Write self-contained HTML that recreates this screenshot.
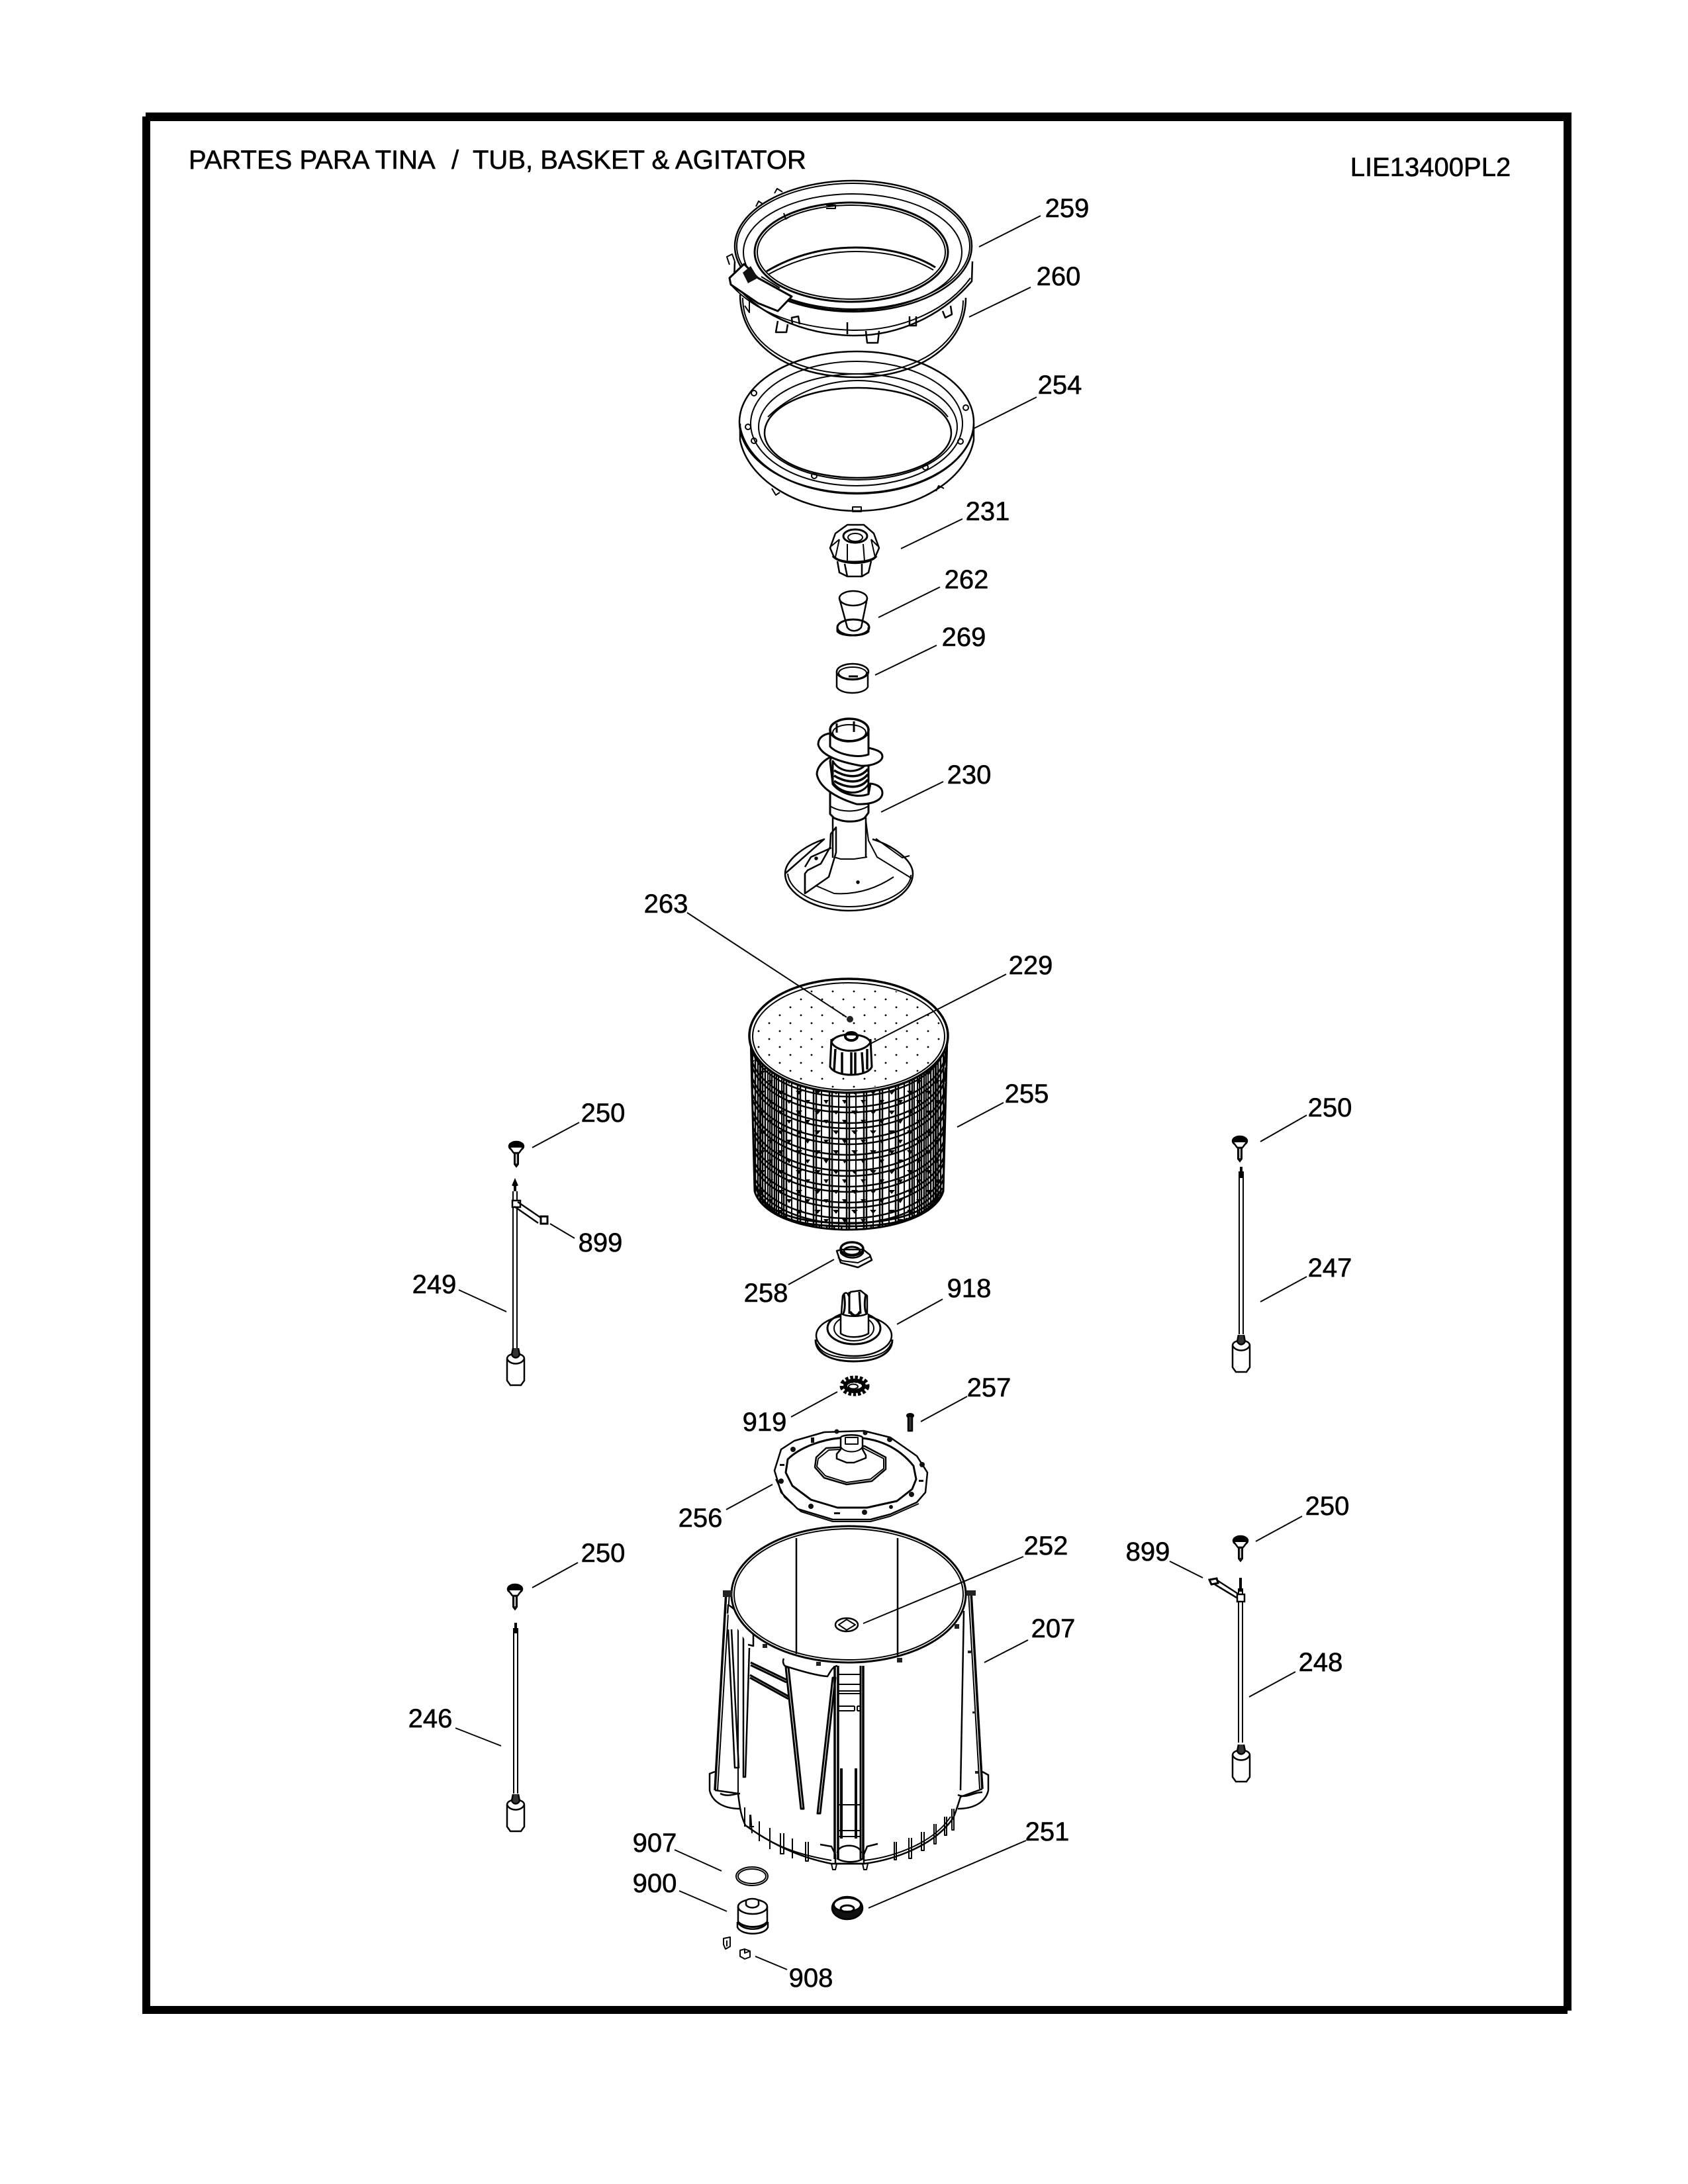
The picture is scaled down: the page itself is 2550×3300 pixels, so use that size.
<!DOCTYPE html>
<html><head><meta charset="utf-8"><title>Tub, Basket &amp; Agitator</title>
<style>html,body{margin:0;padding:0;background:#fff}svg{display:block}text{font-family:"Liberation Sans",sans-serif;font-size:40px;fill:#000;stroke:#000;stroke-width:.6px}</style>
</head><body>
<svg xmlns="http://www.w3.org/2000/svg" width="2550" height="3300" viewBox="0 0 2550 3300">
<defs>
<g id="screw"><ellipse cx="0" cy="-8" rx="11" ry="7" fill="#000"/><path d="M-10,-6L-4,2H4L10,-6" fill="#fff" stroke="#000" stroke-width="2.5"/><path d="M-3,2V19L0,23L3,19V2" fill="#222" stroke="#000" stroke-width="2"/><path d="M0,4V18" stroke="#fff" stroke-width="1.5"/></g>
<g id="weight" fill="#fff" stroke="#000" stroke-width="2.5"><path d="M-13,10V43L-8,50H8L13,43V10C13,0 -13,0 -13,10Z"/><path d="M-13,10C-9,20 9,20 13,10"/><path d="M-4,-6L-6,4C-3,10 3,10 6,4L4,-6" fill="#333"/></g>
<path id="ring" d="M1134,1565A147,84 0 0 0 1428,1565" fill="none" stroke="#000" stroke-width="2.5"/>
<pattern id="tri" width="28" height="30" patternUnits="userSpaceOnUse" x="1140" y="1640"><path d="M6,8H16L11,14Z" fill="#000"/><path d="M20,22H28L24,28Z" fill="#000"/></pattern>
<pattern id="dots" width="32" height="24" patternUnits="userSpaceOnUse" x="1140" y="1480"><circle cx="6" cy="6" r="1.4" fill="#000"/><circle cx="22" cy="18" r="1.4" fill="#000"/></pattern>
<clipPath id="bskt"><path d="M1134,1565L1140,1800C1150,1835 1210,1858 1281,1858C1352,1858 1415,1835 1425,1800L1431,1565A150,86 0 0 1 1134,1565Z"/></clipPath>
</defs>
<rect width="2550" height="3300" fill="#fff"/>
<!-- frame -->
<g fill="#000"><rect x="220" y="170" width="2154" height="13"/><rect x="215" y="176" width="12" height="2867"/><rect x="2362" y="170" width="12" height="2868"/><rect x="215" y="3031" width="2153" height="12"/></g>
<!-- header -->
<text x="285" y="255">PARTES PARA TINA</text><text x="682" y="255">/</text><text x="714" y="255">TUB, BASKET &amp; AGITATOR</text>
<text x="2161" y="266" text-anchor="middle">LIE13400PL2</text>

<g fill="none" stroke="#000" stroke-width="2.5" stroke-linejoin="round">
<!-- 260 gasket -->
<path d="M1118,445C1118,520 1190,570 1293,570C1390,570 1459,520 1459,450" stroke-width="2.5"/><path d="M1122,450C1122,518 1195,565 1293,565C1385,565 1455,518 1455,454" stroke-width="2"/>
<!-- 259 ring -->
<ellipse cx="1289" cy="372" rx="179" ry="99" fill="#fff"/><ellipse cx="1289" cy="372" rx="176" ry="95" stroke-width="2"/>
<ellipse cx="1288" cy="381" rx="165" ry="88" stroke-width="2"/>
<ellipse cx="1286" cy="381" rx="146" ry="75" stroke-width="3"/><ellipse cx="1286" cy="381" rx="142" ry="71" stroke-width="2"/>
<path d="M1158,410C1200,385 1245,374 1293,374C1340,374 1385,386 1413,404" stroke-width="3"/><path d="M1160,415C1205,390 1250,380 1293,380C1340,380 1380,390 1410,408" stroke-width="2"/>
<path d="M1110,395L1109,425C1125,455 1190,505 1288,507C1360,508 1425,475 1468,425L1469,395" />
<path d="M1104,430C1140,470 1200,496 1288,499C1360,500 1430,470 1466,420" stroke-width="2"/>
<path d="M1102,420L1124,399L1145,420L1196,448L1175,470L1145,458L1104,430Z" fill="#fff" stroke-width="3"/>
<path d="M1122,412L1134,402L1145,420L1130,428Z" fill="#111" stroke="none"/>
<path d="M1178,435L1150,418" stroke-width="2"/><path d="M1102,400L1098,388L1106,384L1110,395" stroke-width="2"/>
<path d="M1142,312L1146,304L1152,308M1170,292L1174,285L1182,290M1184,322L1187,331L1195,326M1248,310H1262V315H1248" stroke-width="2"/>
<path d="M1175,485L1172,502H1188L1190,490M1308,500L1310,518H1326L1328,500M1424,470L1428,480L1438,475L1436,462M1197,490L1196,480L1206,478L1208,490M1374,478V492H1384V478M1280,487V505" stroke-width="2.5"/>
<path d="M1125,462L1132,472V455" stroke-width="2"/>

<!-- 254 -->
<path d="M1118,640V665C1130,725 1205,772 1294,772C1385,772 1460,725 1471,665V640"/>
<path d="M1118,645C1130,705 1205,746 1294,746C1385,746 1460,705 1471,648"/>
<ellipse cx="1294" cy="638" rx="177" ry="107"/><ellipse cx="1294" cy="640" rx="160" ry="94" stroke-width="2"/>
<ellipse cx="1296" cy="645" rx="150" ry="80" stroke-width="2"/><ellipse cx="1296" cy="654" rx="141" ry="68" stroke-width="2.5"/>
<path d="M1160,630C1190,600 1240,575 1296,575C1350,575 1410,600 1432,630" stroke-width="2"/>
<g stroke-width="2"><circle cx="1139" cy="594" r="4"/><circle cx="1130" cy="645" r="4"/><circle cx="1139" cy="666" r="4"/><circle cx="1459" cy="616" r="4"/><circle cx="1451" cy="667" r="4"/><circle cx="1398" cy="706" r="4"/><circle cx="1230" cy="719" r="4"/><rect x="1288" y="766" width="13" height="7"/><path d="M1166,738L1172,748L1178,744M1414,742L1418,734L1426,738"/></g>

<!-- 231 -->
<path d="M1254,828L1262,806L1280,793H1305L1320,806L1328,828L1322,842C1310,851 1270,851 1260,842Z" fill="#fff"/>
<ellipse cx="1292" cy="810" rx="18" ry="10" stroke-width="3"/><ellipse cx="1292" cy="812" rx="11" ry="6" stroke-width="2"/>
<path d="M1268,815L1262,842M1280,822V848M1304,822L1306,848M1316,815L1322,842M1256,825L1268,815M1326,825L1316,815" stroke-width="2"/>
<path d="M1258,840C1270,854 1314,854 1324,840" stroke-width="3.5"/>
<path d="M1265,848L1268,865L1280,871H1302L1312,865L1316,848M1276,852L1280,871M1302,852V871"/>
<!-- 262 -->
<path d="M1268,904L1280,948C1285,955 1295,955 1301,948L1310,904"/><ellipse cx="1289" cy="904" rx="21" ry="11"/>
<ellipse cx="1289" cy="948" rx="24" ry="12" stroke-width="3"/><path d="M1265,948V954C1270,962 1305,962 1312,954V948" stroke-width="3"/>
<!-- 269 -->
<path d="M1264,1015V1038C1270,1050 1305,1050 1311,1038V1015"/><ellipse cx="1288" cy="1015" rx="24" ry="12"/><ellipse cx="1288" cy="1017" rx="21" ry="9" stroke-width="2"/><path d="M1282,1022H1296" stroke-width="3"/>
<!-- 230 -->
<path d="M1186,1320C1186,1350 1230,1376 1283,1376C1336,1376 1379,1350 1379,1320C1379,1300 1350,1278 1318,1268M1245,1268C1215,1278 1186,1300 1186,1320Z" fill="#fff"/>
<path d="M1190,1320C1192,1346 1232,1370 1283,1370C1334,1370 1376,1346 1376,1322" stroke-width="2"/>
<path d="M1216,1350L1252,1325L1263,1288V1250L1255,1260L1254,1280L1240,1305L1220,1315L1216,1320Z" fill="#fff"/>
<path d="M1216,1310L1225,1295L1256,1281M1216,1350V1320" />
<path d="M1308,1240L1312,1270L1325,1295L1377,1327M1323,1267L1363,1296L1374,1293M1310,1295L1290,1298H1270L1260,1295M1232,1338L1260,1350C1290,1352 1320,1345 1350,1325" stroke-width="2"/>
<path d="M1258,1235V1296M1308,1235V1296"/>
<!-- stem under the flanges -->
<path d="M1254,1150V1230L1260,1236C1275,1243 1295,1243 1306,1236L1312,1228V1150" fill="#fff" stroke-width="3"/>
<path d="M1254,1218C1270,1228 1295,1228 1312,1218" stroke-width="2"/>
<!-- lower flange -->
<path d="M1256,1143C1242,1150 1234,1160 1234,1170C1238,1190 1262,1205 1294,1215C1320,1216 1333,1208 1333,1198C1333,1190 1325,1185 1315,1184L1312,1200C1295,1206 1270,1200 1258,1185L1254,1150Z" fill="#fff" stroke-width="3"/>
<path d="M1258,1150C1270,1170 1300,1170 1312,1150V1185C1300,1204 1270,1200 1258,1182Z" fill="#fff" stroke-width="3"/>
<path d="M1260,1164C1280,1176 1300,1176 1311,1162M1260,1172C1280,1184 1300,1184 1311,1170M1260,1180C1280,1192 1300,1192 1311,1178" stroke-width="3.5"/>
<!-- upper flange -->
<path d="M1254,1108C1240,1110 1236,1118 1236,1125C1240,1140 1262,1150 1300,1157C1320,1158 1333,1150 1333,1143C1333,1136 1325,1133 1312,1130Z" fill="#fff" stroke-width="3"/>
<path d="M1254,1103V1128C1265,1140 1295,1146 1312,1140V1103" fill="#fff" stroke-width="3"/>
<ellipse cx="1283" cy="1103" rx="29" ry="17" fill="#fff" stroke-width="3.5"/><ellipse cx="1283" cy="1107" rx="25" ry="12" stroke-width="2"/>
<path d="M1264,1093V1107M1290,1090V1106" stroke-width="3"/>
<circle cx="1233" cy="1297" r="1.5" fill="#000"/><circle cx="1296" cy="1333" r="1.5" fill="#000"/>

<!-- 255 basket -->
<g clip-path="url(#bskt)">
<rect x="1130" y="1565" width="305" height="295" fill="url(#tri)" stroke="none"/>
<use href="#ring" y="8"/><use href="#ring" y="24"/><use href="#ring" y="32"/><use href="#ring" y="48"/><use href="#ring" y="56"/><use href="#ring" y="72"/><use href="#ring" y="80"/><use href="#ring" y="96"/><use href="#ring" y="104"/><use href="#ring" y="120"/><use href="#ring" y="128"/><use href="#ring" y="144"/><use href="#ring" y="152"/><use href="#ring" y="168"/><use href="#ring" y="176"/><use href="#ring" y="192"/><use href="#ring" y="200"/><use href="#ring" y="216"/><use href="#ring" y="224"/><use href="#ring" y="236"/>
<path stroke-width="2.5" d="M1279,1649V1858M1283,1649V1858M1253,1648V1857M1257,1648V1857M1305,1648V1857M1309,1648V1857M1229,1644V1855M1233,1644V1855M1329,1644V1855M1333,1644V1855M1205,1638V1850M1209,1638V1850M1353,1638V1850M1357,1638V1850M1184,1629V1844M1188,1629V1844M1374,1629V1844M1378,1629V1844M1166,1619V1837M1170,1619V1837M1392,1619V1837M1396,1619V1837M1152,1607V1829M1156,1607V1829M1406,1607V1829M1410,1607V1829M1141,1594V1820M1145,1594V1820M1417,1594V1820M1421,1594V1820"/>
<path stroke-width="2" d="M1267,1649V1858M1293,1649V1858M1241,1646V1856M1319,1646V1856M1217,1641V1853M1343,1641V1853M1196,1634V1847M1366,1634V1847M1176,1624V1840M1386,1624V1840M1160,1613V1833M1402,1613V1833M1148,1600V1825M1414,1600V1825"/>
<path stroke-width="2" d="M1137,1580V1810M1149,1590V1825M1163,1600V1835M1173,1605V1840M1181,1615V1845M1425,1580V1810M1413,1590V1825M1399,1600V1835M1389,1605V1840M1381,1615V1845"/>
<path d="M1142,1795C1160,1840 1220,1848 1281,1848C1345,1848 1405,1835 1423,1795" stroke-width="3"/>
<path d="M1147,1805C1165,1845 1220,1853 1281,1853C1345,1853 1400,1843 1418,1805" stroke-width="3"/>
<path d="M1140,1808C1160,1852 1220,1866 1281,1866C1345,1866 1405,1850 1425,1808" stroke-width="24" stroke-dasharray="2.5 9"/>
</g>
<path d="M1134,1565L1140,1800C1150,1835 1210,1858 1281,1858C1352,1858 1415,1835 1425,1800L1431,1565" stroke-width="3"/>
<ellipse cx="1282" cy="1565" rx="150" ry="86" fill="#fff" stroke-width="3.5"/><ellipse cx="1282" cy="1566" rx="145" ry="81" stroke-width="2"/>
<ellipse cx="1282" cy="1566" rx="142" ry="79" fill="url(#dots)" stroke="none"/>
<path d="M1317,1590V1618C1310,1628 1262,1628 1254,1618V1590Z" fill="#fff" stroke="none"/>
<path d="M1256,1570L1254,1612C1262,1628 1310,1628 1317,1612L1315,1570" fill="#fff" stroke-width="3"/>
<path d="M1256,1575C1265,1592 1305,1592 1315,1575C1310,1560 1262,1558 1256,1575Z" fill="#fff" stroke-width="3"/>
<ellipse cx="1286" cy="1566" rx="9" ry="6" stroke-width="4"/>
<path d="M1262,1585L1260,1618M1272,1590V1622M1286,1590V1625M1292,1590V1625M1302,1590L1304,1622M1310,1585V1616" stroke-width="3.5"/>
<circle cx="1284" cy="1540" r="5" fill="#222" stroke="none"/>

<!-- 258 -->
<path d="M1264,1890L1270,1908L1296,1915L1317,1904L1314,1896L1304,1888H1272Z" fill="#fff"/>
<path d="M1270,1885V1893C1278,1903 1298,1903 1304,1893V1885" />
<ellipse cx="1287" cy="1887" rx="17" ry="10" stroke-width="3.5"/><ellipse cx="1287" cy="1890" rx="12" ry="6" stroke-width="3"/>
<path d="M1266,1900L1272,1905L1296,1908L1316,1898" stroke-width="2"/>
<!-- 918 -->
<path d="M1232,2024C1232,2045 1255,2057 1290,2057C1325,2057 1348,2045 1348,2024" stroke-width="3"/>
<path d="M1234,2030C1240,2046 1262,2052 1290,2052C1318,2052 1340,2046 1346,2030" stroke-width="2"/>
<ellipse cx="1290" cy="2018" rx="57" ry="31"/><ellipse cx="1290" cy="2007" rx="40" ry="24" stroke-width="3"/><ellipse cx="1290" cy="2007" rx="30" ry="19" stroke-width="2"/>
<path d="M1270,1985V2015C1280,2022 1300,2022 1312,2015V1985" fill="#fff"/>
<path d="M1271,1985L1273,1958C1276,1952 1280,1952 1282,1958L1285,1952L1300,1950L1305,1954L1310,1958V1985C1300,1990 1280,1990 1271,1985Z" fill="#fff"/>
<path d="M1283,1952V1985M1298,1952L1300,1985M1275,1955C1278,1975 1275,1985 1273,1985M1308,1955C1304,1975 1308,1985 1310,1985" stroke-width="3"/>
<path d="M1284,1982C1290,1990 1295,1990 1299,1982" stroke-width="4"/>
<!-- 919 -->
<ellipse cx="1291" cy="2094" rx="17" ry="10" stroke-width="11" stroke-dasharray="4 2.5"/><ellipse cx="1291" cy="2094" rx="14" ry="8" stroke-width="6"/><ellipse cx="1289" cy="2095" rx="7" ry="3.5" stroke-width="2" fill="#fff"/>
<!-- 257 -->
<ellipse cx="1375" cy="2139" rx="6" ry="4" fill="#000" stroke="none"/><path d="M1372,2141V2162H1378V2141" fill="#333"/>
<!-- 256 -->
<path d="M1170,2222L1180,2190L1200,2177L1245,2164L1305,2162L1345,2172L1385,2200L1401,2225L1398,2255L1385,2270L1345,2288L1315,2296L1258,2296L1205,2280L1180,2255Z" fill="#fff" stroke-width="2.5"/>
<path d="M1172,2235L1185,2262L1210,2284L1258,2299L1315,2299L1345,2291L1388,2272" stroke-width="2"/>
<path d="M1187,2225L1190,2205C1205,2190 1240,2172 1285,2172C1330,2172 1360,2190 1380,2215L1384,2235L1378,2250L1355,2268L1310,2278H1265L1225,2266L1197,2245Z" stroke-width="3"/>
<path d="M1248,2188L1306,2185L1338,2202V2220L1317,2238L1279,2243L1245,2233L1231,2217L1233,2202Z" fill="#fff"/>
<path d="M1252,2191L1304,2188L1335,2204V2219L1315,2235L1279,2240L1247,2230L1234,2216L1236,2204Z" stroke-width="2"/>
<path d="M1270,2172C1272,2167 1300,2167 1303,2172V2190L1308,2199V2203L1290,2210H1279L1264,2204V2197L1270,2190Z" fill="#fff"/>
<path d="M1277,2172H1296V2182H1277Z" stroke-width="2"/><path d="M1270,2186C1275,2196 1298,2196 1303,2186" stroke-width="2"/>
<g fill="#111" stroke="none"><circle cx="1264" cy="2163" r="3.5"/><circle cx="1307" cy="2165" r="3.5"/><circle cx="1344" cy="2175" r="4"/><circle cx="1198" cy="2190" r="4"/><circle cx="1393" cy="2213" r="4"/><circle cx="1180" cy="2238" r="4"/><circle cx="1377" cy="2258" r="4"/><circle cx="1225" cy="2276" r="4"/><circle cx="1306" cy="2285" r="4"/><circle cx="1346" cy="2277" r="3"/><rect x="1225" y="2172" width="5" height="8"/><rect x="1178" y="2212" width="7" height="3"/><rect x="1388" y="2236" width="7" height="3"/><rect x="1260" y="2285" width="9" height="3"/></g>

<!-- 207 tub -->
<path d="M1097,2405L1080,2705L1115,2710L1126,2758C1170,2790 1215,2808 1256,2816H1306C1350,2810 1410,2790 1440,2747L1451,2705L1484,2703L1467,2405" fill="#fff" stroke="none"/>
<path d="M1097,2405L1080,2705" stroke-width="3.5"/><path d="M1102,2405L1084,2705" stroke-width="2"/>
<path d="M1467,2405L1484,2703" stroke-width="3.5"/><path d="M1463,2405L1480,2703" stroke-width="2"/>
<path d="M1105,2462L1116,2671H1110L1100,2462M1132,2490L1126,2685H1123V2465"/>
<path d="M1456,2434L1451,2705" stroke-width="2.5"/><path d="M1115,2445V2710" stroke-width="2"/>
<path d="M1080,2705L1115,2710C1118,2735 1120,2745 1126,2758C1170,2790 1215,2808 1256,2816H1306C1350,2810 1410,2790 1440,2747C1445,2735 1448,2725 1451,2715L1484,2703"/>
<path d="M1080,2677L1072,2680V2705C1075,2720 1090,2733 1118,2733M1088,2710C1100,2716 1110,2710 1118,2710" stroke-width="2.5"/>
<path d="M1484,2677L1493,2682V2705C1490,2720 1475,2733 1447,2733M1447,2712C1460,2718 1470,2708 1484,2708" stroke-width="2.5"/>
<!-- tub front ribs -->
<path d="M1187,2519L1210,2733L1214,2733L1191,2519Z" stroke-width="3"/>
<path d="M1258,2535L1235,2740L1239,2740L1262,2535Z" stroke-width="3"/>
<path d="M1134,2512L1188,2538M1134,2516L1188,2542M1133,2531L1191,2563M1133,2535L1191,2567" stroke-width="3"/>
<path d="M1184,2506C1182,2510 1183,2517 1188,2518C1210,2525 1235,2532 1250,2533C1255,2525 1258,2518 1265,2517" fill="#fff"/>
<path d="M1099,2438L1100,2425C1110,2430 1125,2448 1138,2470V2487L1130,2485" fill="#fff"/>
<!-- channel -->
<path d="M1261,2517V2809M1266,2517V2809M1304,2517V2809" stroke-width="3.5"/><path d="M1300,2517V2809" stroke-width="3"/>
<path d="M1266,2530H1300M1266,2545H1300M1266,2555H1300M1266,2559H1300M1266,2578H1291M1266,2585H1291M1295,2578H1300M1295,2585H1300M1291,2578V2585M1295,2578V2585M1266,2727H1300M1266,2766H1300M1266,2775H1300" stroke-width="2"/>
<path d="M1271,2672V2778M1293,2672V2778" stroke-width="4"/>
<path d="M1239,2787L1256,2790L1262,2802V2816H1305V2802L1310,2790L1326,2786M1264,2808C1275,2815 1295,2815 1304,2808M1265,2800C1265,2785 1300,2785 1301,2800" stroke-width="2.5"/>
<path d="M1256,2816L1258,2825L1262,2825L1264,2816M1303,2816L1305,2825L1309,2825L1311,2816" stroke-width="2"/>
<!-- fins -->
<path stroke-width="2" d="M1125,2731V2760M1133,2742V2760H1139M1134,2742L1136,2770M1147,2752V2782M1163,2762V2794M1179,2770V2801H1184V2770M1197,2778V2808M1217,2783V2812H1221V2783M1351,2783V2810H1354V2783M1373,2777V2808H1377V2777M1392,2768V2796H1396V2768M1411,2756V2786H1414V2756M1427,2745V2773H1430V2745M1438,2733V2765H1441V2733"/>
<path d="M1130,2760C1170,2792 1215,2804 1256,2811M1306,2811C1350,2806 1410,2785 1436,2745" stroke-width="2"/>
<ellipse cx="1282" cy="2409" rx="177" ry="103" fill="#fff" stroke-width="3"/><ellipse cx="1282" cy="2409" rx="173" ry="99" stroke-width="2"/>
<path d="M1203,2324V2499M1356,2324V2501" stroke-width="2.5"/>
<rect x="1092" y="2403" width="14" height="10" fill="#222" stroke="none"/><rect x="1460" y="2403" width="14" height="8" fill="#222" stroke="none"/>
<g fill="#222" stroke="none"><rect x="1152" y="2484" width="7" height="6"/><rect x="1233" y="2511" width="7" height="6"/><rect x="1355" y="2505" width="8" height="7"/><rect x="1442" y="2454" width="7" height="7"/><rect x="1462" y="2494" width="5" height="4"/><rect x="1469" y="2586" width="5" height="3"/><rect x="1473" y="2676" width="5" height="4"/></g>
<ellipse cx="1279" cy="2455" rx="17" ry="10" stroke-width="2.5"/><path d="M1267,2455L1279,2447L1292,2455L1279,2463Z" stroke-width="2"/>
<!-- 907 -->
<ellipse cx="1136" cy="2835" rx="24" ry="14" stroke-width="2"/><ellipse cx="1136" cy="2835" rx="21" ry="11" stroke-width="2"/>
<!-- 900 -->
<path d="M1114,2904V2912C1120,2925 1155,2925 1160,2912V2904"/><path d="M1115,2881V2905C1122,2918 1152,2918 1159,2905V2881" fill="#fff"/>
<ellipse cx="1137" cy="2881" rx="22" ry="11"/><path d="M1127,2878V2872C1130,2868 1143,2868 1146,2872V2878C1143,2884 1130,2884 1127,2878Z" fill="#fff"/>
<path d="M1115,2904C1125,2914 1150,2914 1159,2904" stroke-width="3"/>
<!-- 251 -->
<ellipse cx="1280" cy="2883" rx="23" ry="17" fill="#111"/><ellipse cx="1280" cy="2878" rx="20" ry="10" fill="#fff" stroke-width="2"/><ellipse cx="1280" cy="2884" rx="10" ry="5" stroke-width="3"/>
<!-- 908 -->
<path d="M1093,2929L1103,2927V2941L1096,2945L1093,2938ZM1098,2932V2941" stroke-width="2"/>
<path d="M1118,2947L1125,2945L1133,2948V2957L1125,2960L1118,2956ZM1125,2945V2951L1133,2948" stroke-width="2"/>
</g>

<!-- floats -->
<g fill="none" stroke="#000" stroke-width="2.5">
<!-- 249 -->
<use href="#screw" x="780" y="1740"/>
<path d="M775,1800V2040M781,1800V2040" stroke-width="2"/><path d="M778,1786V1800M775,1792L778,1785L781,1792" stroke-width="4"/>
<rect x="774" y="1814" width="12" height="10" fill="#fff"/><path d="M782,1816L817,1840M777,1823L813,1848" /><rect x="817" y="1838" width="10" height="11" fill="#fff" stroke-width="3"/>
<use href="#weight" x="779" y="2043"/>
<!-- 247 -->
<use href="#screw" x="1873" y="1732"/>
<path d="M1872,1770V2016M1878,1770V2016" stroke-width="2"/><path d="M1875,1763V1780" stroke-width="4"/>
<use href="#weight" x="1875" y="2023"/>
<!-- 246 -->
<use href="#screw" x="778" y="2409"/>
<path d="M776,2460V2710M782,2460V2710" stroke-width="2"/><path d="M779,2452V2468" stroke-width="4"/>
<use href="#weight" x="779" y="2717"/>
<!-- 248 -->
<use href="#screw" x="1874" y="2336"/>
<path d="M1871,2400V2633M1877,2400V2633" stroke-width="2"/><path d="M1874,2384V2405" stroke-width="4"/>
<rect x="1869" y="2409" width="11" height="11" fill="#fff"/><path d="M1839,2388L1870,2408M1835,2394L1868,2414"/><path d="M1827,2387L1838,2385L1840,2392L1830,2394Z" fill="#fff" stroke-width="3"/>
<use href="#weight" x="1875" y="2642"/>
</g>

<!-- leaders -->
<g stroke="#000" stroke-width="2" fill="none">
<path d="M1479,373L1572,326M1464,479L1557,434M1472,647L1566,600M1361,829L1454,784M1327,933L1420,887M1322,1020L1415,975M1331,1227L1425,1181M1038,1379L1279,1537M1315,1577L1520,1472M1446,1703L1516,1666"/>
<path d="M804,1734L875,1696M1904,1725L1974,1685M831,1849L868,1871M693,1949L765,1982M1904,1967L1974,1929M1191,1941L1260,1903M1355,2001L1424,1963M1195,2141L1265,2103M1391,2148L1461,2110M1097,2281L1167,2243M804,2399L873,2361M1897,2329L1967,2291M1767,2359L1817,2384M1304,2453L1546,2352M1487,2512L1553,2478M1887,2564L1957,2526M688,2611L757,2638M1019,2795L1090,2827M1026,2857L1098,2888M1312,2883L1550,2781M1141,2956L1189,2976"/>
</g>

<!-- labels -->
<g text-anchor="middle">
<text x="1612" y="328">259</text><text x="1599" y="431">260</text><text x="1601" y="595">254</text><text x="1492" y="786">231</text><text x="1460" y="889">262</text><text x="1456" y="976">269</text><text x="1464" y="1184">230</text><text x="1006" y="1379">263</text><text x="1557" y="1472">229</text><text x="1551" y="1666">255</text><text x="911" y="1695">250</text><text x="2009" y="1687">250</text><text x="907" y="1891">899</text><text x="656" y="1954">249</text><text x="2009" y="1929">247</text><text x="1157" y="1967">258</text><text x="1464" y="1960">918</text><text x="1155" y="2162">919</text><text x="1494" y="2110">257</text><text x="1058" y="2307">256</text><text x="911" y="2360">250</text><text x="2005" y="2289">250</text><text x="1734" y="2358">899</text><text x="1580" y="2349">252</text><text x="1591" y="2474">207</text><text x="1995" y="2525">248</text><text x="650" y="2610">246</text><text x="989" y="2798">907</text><text x="989" y="2859">900</text><text x="1582" y="2781">251</text><text x="1225" y="3002">908</text>
</g>
</svg>
</body></html>
